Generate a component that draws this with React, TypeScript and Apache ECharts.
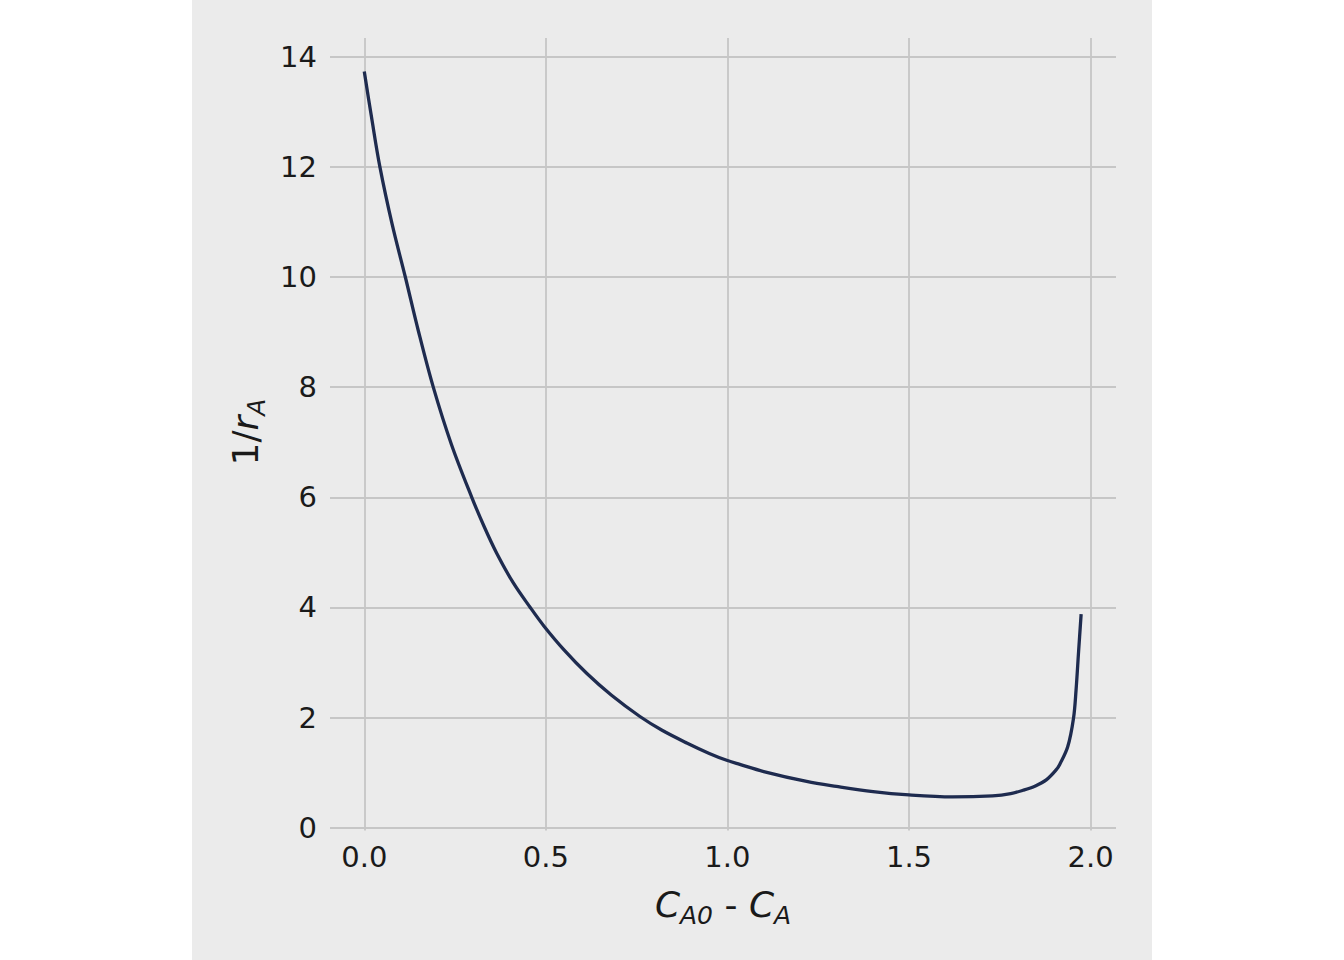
import React, { useEffect, useRef } from "react";
import * as echarts from "echarts";

// C_A0 - C_A (conversion) and 1/r_A
const conversion = [
  0.0, 0.02, 0.043, 0.077, 0.113, 0.149, 0.19, 0.24, 0.296, 0.33, 0.365, 0.41,
  0.457, 0.495, 0.55, 0.613, 0.68, 0.759, 0.82, 0.888, 0.95, 1.0, 1.034, 1.1,
  1.218, 1.3, 1.401, 1.5, 1.62, 1.73, 1.78, 1.814, 1.848, 1.878, 1.905, 1.915,
  1.937, 1.953, 1.96, 1.967, 1.974,
];
const invRate = [
  13.73, 12.9, 12.0, 10.95, 10.0, 9.02, 8.0, 6.96, 6.0, 5.47, 4.98, 4.45,
  4.0, 3.66, 3.23, 2.8, 2.41, 2.02, 1.77, 1.54, 1.35, 1.22, 1.15, 1.02,
  0.84, 0.75, 0.655, 0.595, 0.56, 0.58, 0.62, 0.68, 0.76, 0.87, 1.05, 1.15,
  1.47, 1.99, 2.5, 3.2, 3.88,
];
const xTicks = [0, 0.5, 1.0, 1.5, 2.0];
const yTicks = [0, 2, 4, 6, 8, 10, 12, 14];

const FONT = "DejaVu Sans";
const INK = "#1a1a1a";

const titleRich = {
  i: { fontFamily: FONT, fontStyle: "italic", fontSize: 36, lineHeight: 36, padding: [0, 0, 5, 0], fill: INK },
  n: { fontFamily: FONT, fontSize: 36, lineHeight: 36, padding: [0, 0, 5, 0], fill: INK },
  s: { fontFamily: FONT, fontStyle: "italic", fontSize: 25, lineHeight: 25, padding: [16, 0, 0, 0], fill: INK },
};

export default function App() {
  const ref = useRef<HTMLDivElement>(null);

  useEffect(() => {
    if (!ref.current) return;
    const chart = echarts.init(ref.current, undefined, { renderer: "svg" });
    const data = conversion.map((x, i) => [x, invRate[i]]);
    chart.setOption({
      animation: false,
      backgroundColor: "#ffffff",
      graphic: [
        {
          type: "rect",
          z: -100,
          silent: true,
          shape: { x: 192, y: 0, width: 960, height: 960 },
          style: { fill: "#ebebeb" },
        },
        {
          type: "text",
          x: 723,
          y: 907,
          z: 10,
          style: {
            text: "{i|C}{s|A0}{n| - }{i|C}{s|A}",
            align: "center",
            verticalAlign: "middle",
            fill: INK,
            rich: titleRich,
          },
        },
        {
          type: "text",
          x: 248,
          y: 432,
          z: 10,
          rotation: Math.PI / 2,
          style: {
            text: "{n|1/}{i|r}{s|A}",
            align: "center",
            verticalAlign: "middle",
            fill: INK,
            rich: titleRich,
          },
        },
      ],
      grid: { left: 330, right: 228, top: 38, bottom: 129.5, containLabel: false },
      xAxis: {
        type: "value",
        min: -0.0944,
        max: 2.07,
        axisLine: { show: false },
        axisTick: { show: false, customValues: xTicks },
        axisLabel: {
          customValues: xTicks,
          formatter: (v: number) => v.toFixed(1),
          fontFamily: FONT,
          fontSize: 29,
          color: INK,
          margin: 12,
        },
        splitLine: { show: true, lineStyle: { color: "#c6c6c6", width: 1.8 } },
      },
      yAxis: {
        type: "value",
        min: -0.05,
        max: 14.34,
        axisLine: { show: false },
        axisTick: { show: false, customValues: yTicks },
        axisLabel: {
          customValues: yTicks,
          formatter: (v: number) => String(v),
          fontFamily: FONT,
          fontSize: 29,
          color: INK,
          margin: 13,
        },
        splitLine: { show: true, lineStyle: { color: "#c6c6c6", width: 1.8 } },
      },
      series: [
        {
          type: "line",
          data,
          showSymbol: false,
          smooth: 0.35,
          lineStyle: { color: "#1e2b4f", width: 3.3, join: "round", cap: "butt" },
          itemStyle: { color: "#1e2b4f" },
        },
      ],
    });
    return () => chart.dispose();
  }, []);

  return (
    <div
      ref={ref}
      style={{ position: "absolute", left: 0, top: 0, width: 1344, height: 960 }}
    />
  );
}
